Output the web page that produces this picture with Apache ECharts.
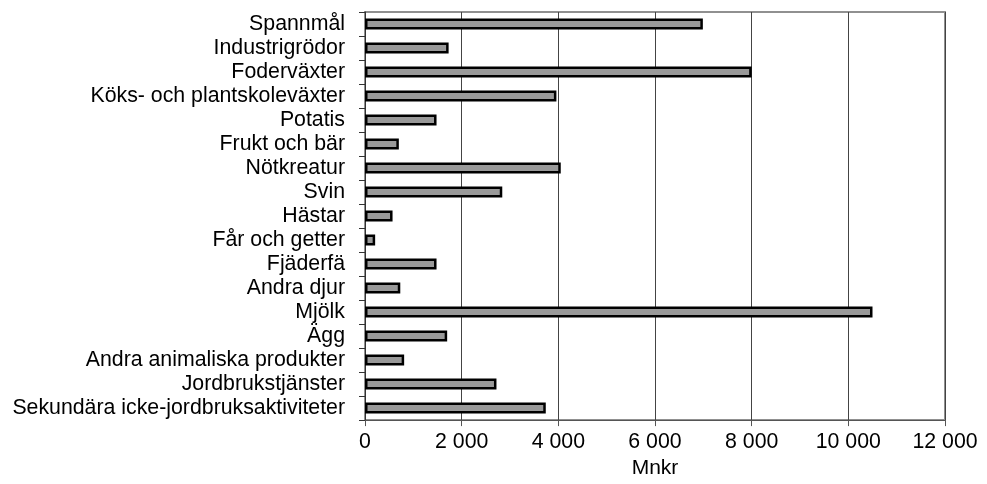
<!DOCTYPE html>
<html><head><meta charset="utf-8">
<script src="https://cdn.jsdelivr.net/npm/echarts@6/dist/echarts.min.js"></script>
<style>html,body{margin:0;padding:0;background:#fff}#c{width:987px;height:484px}</style>
</head><body><div id="c"></div>
<script>
var categories = ["Spannmål","Industrigrödor","Foderväxter","Köks- och plantskoleväxter","Potatis","Frukt och bär","Nötkreatur","Svin","Hästar","Får och getter","Fjäderfä","Andra djur","Mjölk","Ägg","Andra animaliska produkter","Jordbrukstjänster","Sekundära icke-jordbruksaktiviteter"];
var values = [6990,1730,8000,3960,1480,700,4050,2840,570,210,1480,730,10500,1700,810,2720,3740];
var xTicks = {min:0, max:12000, interval:2000};
var xName = "Mnkr";

var font = "'Liberation Sans', Arial, sans-serif";
var chart = echarts.init(document.getElementById('c'), null, {renderer:'canvas'});
chart.setOption({
  animation:false,
  backgroundColor:'#fff',
  grid:{left:365, right:42, top:12, bottom:63, show:true, borderColor:'#909090', borderWidth:2, backgroundColor:'transparent'},
  xAxis:{
    type:'value', min:xTicks.min, max:xTicks.max, interval:xTicks.interval,
    name:xName, nameLocation:'middle', nameGap:35,
    nameTextStyle:{fontFamily:font, fontSize:21, color:'#000'},
    axisLine:{show:true, lineStyle:{color:'#555', width:1}},
    axisTick:{show:true, length:6, lineStyle:{color:'#555'}},
    axisLabel:{fontFamily:font, fontSize:21.3, color:'#000', margin:12,
      formatter:function(v){return String(v).replace(/\B(?=(\d{3})+(?!\d))/g,' ');}},
    splitLine:{show:true, lineStyle:{color:'#444', width:1}}
  },
  yAxis:{
    type:'category', data:categories, inverse:true,
    axisLine:{show:true, lineStyle:{color:'#333', width:1}},
    axisTick:{show:true, length:6, lineStyle:{color:'#333'}},
    axisLabel:{fontFamily:font, fontSize:21.3, color:'#000', margin:20, interval:0, lineHeight:20, padding:[0,0,3,0]},
    splitLine:{show:false}
  },
  series:[{
    type:'bar', data:values, barWidth:11,
    itemStyle:{color:'#999999', borderColor:'#000', borderWidth:2.5},
    silent:true
  }]
});
</script></body></html>
